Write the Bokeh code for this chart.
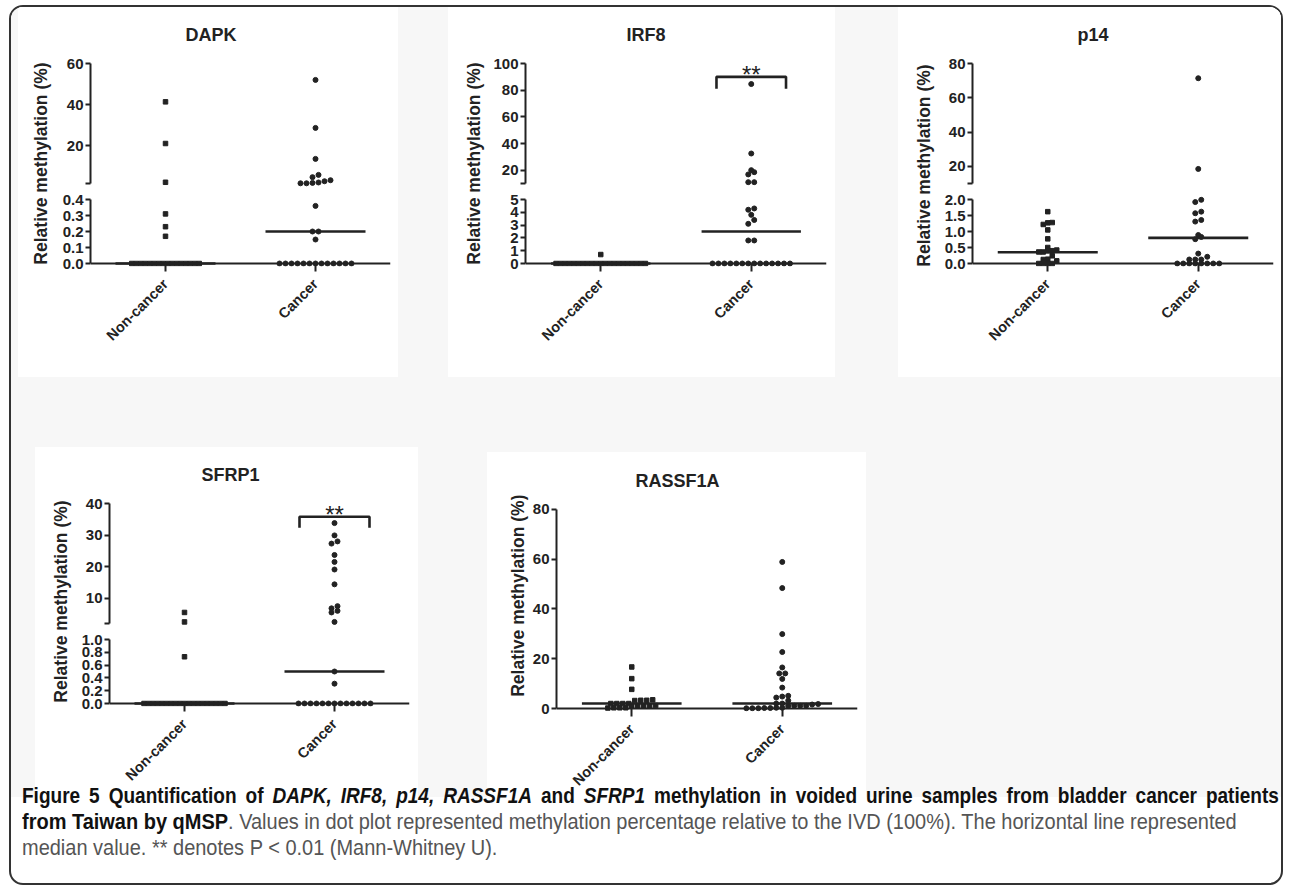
import numpy as np
from bokeh.plotting import figure
from bokeh.models import Range1d, FixedTicker, Span, Spacer, Div, PrintfTickFormatter
from bokeh.layouts import row, column
from bokeh.embed import file_html
from bokeh.resources import INLINE
from bokeh.core.properties import value

# ---------------- data ----------------
groups = ["Non-cancer", "Cancer"]
y_label = "Relative methylation (%)"

dapk_non = [41.3, 21.0, 2.1, 0.31, 0.23, 0.17] + [0.0] * 16
dapk_can = [52.0, 28.6, 13.5, 5.7, 4.6, 3.1, 2.6, 2.0, 1.8, 1.6, 1.6,
            0.36, 0.20, 0.20, 0.15] + [0.0] * 13
dapk_med = [0.0, 0.2]
dapk_upper_ticks = [20, 40, 60]
dapk_lower_ticks = [0.0, 0.1, 0.2, 0.3, 0.4]
dapk_break = 1.5

irf8_non = [0.7] + [0.0] * 21
irf8_can = [84.6, 32.5, 20.0, 18.5, 16.8, 11.0, 11.0, 4.3, 4.2, 3.8, 3.4, 3.1,
            1.8, 1.8] + [0.0] * 14
irf8_med = [0.0, 2.5]
irf8_upper_ticks = [20, 40, 60, 80, 100]
irf8_lower_ticks = [0, 1, 2, 3, 4, 5]
irf8_break = 10
irf8_sig = [90.0, 81.0, 92.0]      # bracket top, bracket leg end, stars

p14_non = [1.62, 1.28, 1.27, 1.22, 1.05, 0.77, 0.50, 0.40, 0.36, 0.36, 0.40,
           0.42, 0.24, 0.135, 0.083, 0.125, 0.0, 0.0, 0.0, 0.0]
p14_can = [71.4, 18.5, 1.99, 1.92, 1.62, 1.57, 1.36, 1.31, 0.89, 0.83, 0.76,
           0.31, 0.125, 0.125, 0.125, 0.21] + [0.0] * 8
p14_med = [0.35, 0.8]
p14_upper_ticks = [20, 40, 60, 80]
p14_lower_ticks = [0.0, 0.5, 1.0, 1.5, 2.0]
p14_break = 10

sfrp1_non = [5.5, 2.5, 0.73] + [0.0] * 19
sfrp1_can = [33.8, 29.9, 28.0, 27.3, 23.7, 21.5, 19.1, 14.4, 7.5, 6.8, 6.0,
             5.5, 2.5, 0.50, 0.31] + [0.0] * 13
sfrp1_med = [0.0, 0.5]
sfrp1_upper_ticks = [10, 20, 30, 40]
sfrp1_lower_ticks = [0.0, 0.2, 0.4, 0.6, 0.8, 1.0]
sfrp1_break = 2
sfrp1_sig = [35.8, 32.3, 36.5]

rassf1a_non = [16.7, 12.0, 7.7, 3.3, 3.5, 3.3, 3.2, 2.0, 2.0, 2.0, 2.0, 1.2,
               1.0, 1.0, 1.1, 1.1, 0.3, 0.2, 0.3, 0.3]
rassf1a_can = [58.9, 48.4, 29.9, 22.7, 16.5, 14.1, 14.1, 11.9, 8.4, 5.1, 4.4,
               4.8, 3.2, 2.0, 1.8, 1.6, 1.1, 1.1, 0.3, 0.2, 0.1, 0.1, 0.1, 0.2,
               0.3, 1.0, 1.1, 2.0]
rassf1a_med = [2.0, 2.0]
rassf1a_ticks = [0, 20, 40, 60, 80]

# ---------------- style ----------------
FONT = "Liberation Sans"
INK = "#222222"
GRAY_BG = "#f7f7f7"

UPPER_H = 184               # height of the upper-segment figure
UP_H, LO_H = 120, 64        # axis lengths (px) of upper / lower segments
PAD_T, PAD_B, PAD_LT, PAD_Z = 14, 4, 4, 3
BB_UP, BT_LO = 4, 4
MED_HW = 50                 # half width of median line (px)
BR_HW = 35                  # half width of significance bracket (px)


def style_y(ax, ticks, bounds, fmt, blank=None):
    ax.ticker = FixedTicker(ticks=list(ticks))
    ax.bounds = bounds
    ax.formatter = PrintfTickFormatter(format=fmt)
    if blank is not None:
        ax.major_label_overrides = {blank: ""}
    ax.axis_line_width = 2
    ax.axis_line_color = INK
    ax.major_tick_line_width = 2
    ax.major_tick_line_color = INK
    ax.major_tick_out = 5
    ax.major_tick_in = 0
    ax.minor_tick_line_color = None
    ax.major_label_standoff = 2
    ax.major_label_text_font = FONT
    ax.major_label_text_font_size = "15px"
    ax.major_label_text_font_style = "bold"
    ax.major_label_text_color = INK


def style_x(p):
    ax = p.xaxis[0]
    ax.ticker = FixedTicker(ticks=[i + 0.5 for i in range(len(groups))])
    ax.major_label_overrides = {i + 0.5: g for i, g in enumerate(groups)}
    ax.axis_line_color = None
    ax.major_tick_in = PAD_Z
    ax.major_tick_out = 5
    ax.major_tick_line_width = 2
    ax.major_tick_line_color = INK
    ax.minor_tick_line_color = None
    ax.major_label_orientation = np.pi / 4
    ax.major_label_standoff = 10
    ax.major_label_text_font = FONT
    ax.major_label_text_font_size = "14.5px"
    ax.major_label_text_font_style = "bold"
    ax.major_label_text_color = INK
    p.add_layout(Span(location=0, dimension="width", line_color=INK, line_width=2))


def style_title(p, off):
    p.title.align = "left"
    p.title.offset = off
    p.title.text_font = FONT
    p.title.text_font_size = "18px"
    p.title.text_font_style = "bold"
    p.title.text_color = INK


def swarm_offsets(vals, seg_of, px_of, spacing, thresh=4.0):
    order = sorted(range(len(vals)), key=lambda i: vals[i])
    rows = []
    for i in order:
        s, py = seg_of(vals[i]), px_of(vals[i])
        if rows and rows[-1][0] == s and abs(py - rows[-1][1]) < thresh:
            rows[-1][2].append(i)
        else:
            rows.append([s, py, [i]])
    off = [0.0] * len(vals)
    for _, _, idx in rows:
        n = len(idx)
        for k, i in enumerate(idx):
            off[i] = (k - (n - 1) / 2.0) * spacing
    return off


def base_fig(**kw):
    p = figure(toolbar_location=None, output_backend="svg", outline_line_color=None,
               background_fill_color="white", border_fill_color="white", **kw)
    p.grid.visible = False
    return p


def ylab_fig(w, h, tx, ty):
    p = base_fig(width=w, height=h, x_range=Range1d(0, w), y_range=Range1d(0, h),
                 x_axis_location=None, y_axis_location=None, min_border=0)
    p.text(x=[tx], y=[h - ty], text=[y_label], angle=np.pi / 2, text_align="center",
           text_baseline="middle", text_font=value(FONT), text_font_size="17.5px",
           text_font_style="bold", text_color=INK)
    return p


MARKERS = [("square", 4.5, 4.5), ("circle", 5, 6)]
WHITE = {"background-color": "white"}


def broken_panel(name, non, can, med, up_ticks, brk, lo_ticks, lo_fmt, sig, G):
    top, ltop = up_ticks[-1], lo_ticks[-1]
    ku, kl = UP_H / (top - brk), LO_H / ltop
    fw, left = G["frame_w"], G["left"]
    right = G["fig_w"] - left - fw
    xr = Range1d(0, len(groups))
    up = base_fig(width=G["fig_w"], height=UPPER_H, x_range=xr, title=name,
                  y_range=Range1d(brk - PAD_B / ku, top + PAD_T / ku),
                  x_axis_location=None, min_border_left=left, min_border_right=right,
                  min_border_top=UPPER_H - PAD_T - UP_H - PAD_B - BB_UP,
                  min_border_bottom=BB_UP)
    style_title(up, G["title_off"])
    style_y(up.yaxis[0], [brk] + list(up_ticks), (brk, top), "%d", blank=brk)
    lo_h = G["lower_h"]
    lo = base_fig(width=G["fig_w"], height=lo_h, x_range=xr,
                  y_range=Range1d(-PAD_Z / kl, ltop + PAD_LT / kl),
                  min_border_left=left, min_border_right=right,
                  min_border_top=BT_LO, min_border_bottom=lo_h - BT_LO - PAD_LT - LO_H - PAD_Z)
    style_y(lo.yaxis[0], lo_ticks, (0, ltop), lo_fmt)
    style_x(lo)

    def seg(v):
        return 1 if v > ltop else 0

    def px(v):
        return (v - brk) * ku if v > ltop else v * kl

    for gi, vals in enumerate([non, can]):
        marker, size, spacing = MARKERS[gi]
        off = swarm_offsets(vals, seg, px, spacing)
        xs = [gi + 0.5 + o / (fw / 2.0) for o in off]
        hx = [x for x, v in zip(xs, vals) if v > ltop]
        hy = [v for v in vals if v > ltop]
        lx = [x for x, v in zip(xs, vals) if v <= ltop]
        ly = [v for v in vals if v <= ltop]
        up.scatter(hx, hy, marker=marker, size=size, color=INK)
        lo.scatter(lx, ly, marker=marker, size=size, color=INK)
        hw = MED_HW / (fw / 2.0)
        tgt = lo if med[gi] <= ltop else up
        tgt.segment(x0=[gi + 0.5 - hw], x1=[gi + 0.5 + hw], y0=[med[gi]], y1=[med[gi]],
                    line_width=2.6, line_color=INK)
    if sig is not None:
        c = len(groups) - 0.5
        hw = BR_HW / (fw / 2.0)
        up.line(x=[c - hw, c - hw, c + hw, c + hw], y=[sig[1], sig[0], sig[0], sig[1]],
                line_width=2.6, line_color=INK)
        up.text(x=[c], y=[sig[2]], text=["**"], text_align="center", text_baseline="middle",
                text_font=value(FONT), text_font_size="24px", text_color=INK)
    yl = ylab_fig(G["ylab_w"], UPPER_H + lo_h, G["ylab_x"], G["ylab_y"])
    return row(yl, column(up, lo, styles=WHITE), styles=WHITE)


def single_panel(name, non, can, med, ticks, G):
    top = ticks[-1]
    k = 200.0 / top
    fw, left = G["frame_w"], G["left"]
    right = G["fig_w"] - left - fw
    H = G["h"]
    p = base_fig(width=G["fig_w"], height=H, x_range=Range1d(0, len(groups)), title=name,
                 y_range=Range1d(-PAD_Z / k, top + PAD_T / k),
                 min_border_left=left, min_border_right=right,
                 min_border_top=G["top"], min_border_bottom=H - G["top"] - PAD_T - 200 - PAD_Z)
    style_title(p, G["title_off"])
    style_y(p.yaxis[0], ticks, (0, top), "%d")
    style_x(p)
    for gi, vals in enumerate([non, can]):
        marker, size, _ = MARKERS[gi]
        off = swarm_offsets(vals, lambda v: 0, lambda v: v * k, 6.0, thresh=4.5)
        xs = [gi + 0.5 + o / (fw / 2.0) for o in off]
        p.scatter(xs, vals, marker=marker, size=size, color=INK)
        hw = MED_HW / (fw / 2.0)
        p.segment(x0=[gi + 0.5 - hw], x1=[gi + 0.5 + hw], y0=[med[gi]], y1=[med[gi]],
                  line_width=2.6, line_color=INK)
    yl = ylab_fig(G["ylab_w"], H, G["ylab_x"], G["ylab_y"])
    return row(yl, p, styles=WHITE)


dapk = broken_panel("DAPK", dapk_non, dapk_can, dapk_med, dapk_upper_ticks, dapk_break,
                    dapk_lower_ticks, "%.1f", None,
                    dict(fig_w=340, left=32, frame_w=300, lower_h=186, title_off=95,
                         ylab_w=40, ylab_x=22, ylab_y=156))
irf8 = broken_panel("IRF8", irf8_non, irf8_can, irf8_med, irf8_upper_ticks, irf8_break,
                    irf8_lower_ticks, "%d", irf8_sig,
                    dict(fig_w=345, left=33, frame_w=303, lower_h=186, title_off=101,
                         ylab_w=42, ylab_x=25, ylab_y=156))
p14 = broken_panel("p14", p14_non, p14_can, p14_med, p14_upper_ticks, p14_break,
                   p14_lower_ticks, "%.1f", None,
                   dict(fig_w=341, left=32, frame_w=301, lower_h=186, title_off=105,
                        ylab_w=42, ylab_x=25, ylab_y=158))
sfrp1 = broken_panel("SFRP1", sfrp1_non, sfrp1_can, sfrp1_med, sfrp1_upper_ticks, sfrp1_break,
                     sfrp1_lower_ticks, "%.1f", sfrp1_sig,
                     dict(fig_w=341, left=32, frame_w=300, lower_h=166, title_off=92,
                          ylab_w=42, ylab_x=25, ylab_y=154))
rassf = single_panel("RASSF1A", rassf1a_non, rassf1a_can, rassf1a_med, rassf1a_ticks,
                     dict(fig_w=337, left=26, frame_w=302, h=345, top=43, title_off=79,
                          ylab_w=42, ylab_x=30, ylab_y=160))

row1 = row(Spacer(width=7, height=370), dapk, Spacer(width=50, height=370), irf8,
           Spacer(width=63, height=370), p14)
row2 = row(Spacer(width=24, height=420), column(Spacer(width=10, height=70), sfrp1),
           Spacer(width=69, height=420), column(Spacer(width=10, height=75), rassf),
           Spacer(width=415, height=420))
panels = column(row1, row2, styles={"background-color": GRAY_BG})

SX1, SX2 = 0.865, 0.908
LINE = 'display:block;transform-origin:0 0;height:26px;transform:scaleX(%.3f);'
caption_html = (
    '<div style="box-sizing:border-box;font-family:\'Liberation Sans\',Arial,sans-serif;'
    'font-size:22px;line-height:26px;color:#555;padding:0 0 0 11px;width:1270px;'
    'height:100px;white-space:nowrap;overflow:hidden;">'
    '<div style="' + LINE % SX1 + 'width:%dpx;text-align:justify;text-align-last:justify;'
    'color:#111;font-weight:bold;">' % int(1257 / SX1) +
    'Figure 5 Quantification of <i>DAPK, IRF8, p14, RASSF1A</i> and <i>SFRP1</i> methylation '
    'in voided urine samples from bladder cancer patients</div>'
    '<div style="' + LINE % SX2 + '">'
    '<b style="color:#111">from Taiwan by qMSP</b>. Values in dot plot represented '
    'methylation percentage relative to the IVD (100%). The horizontal line represented</div>'
    '<div style="' + LINE % SX2 + '">median value. ** denotes P &lt; 0.01 '
    '(Mann-Whitney U).</div>'
    '</div>'
)
caption = Div(text=caption_html, width=1270, height=100, margin=(-14, 0, 0, 0))

outer = column(panels, caption, margin=(5, 0, 0, 9),
               styles={"border": "2px solid #333", "border-radius": "14px",
                       "overflow": "hidden", "background-color": "white"})

open("out.html", "w").write(file_html(outer, INLINE))
